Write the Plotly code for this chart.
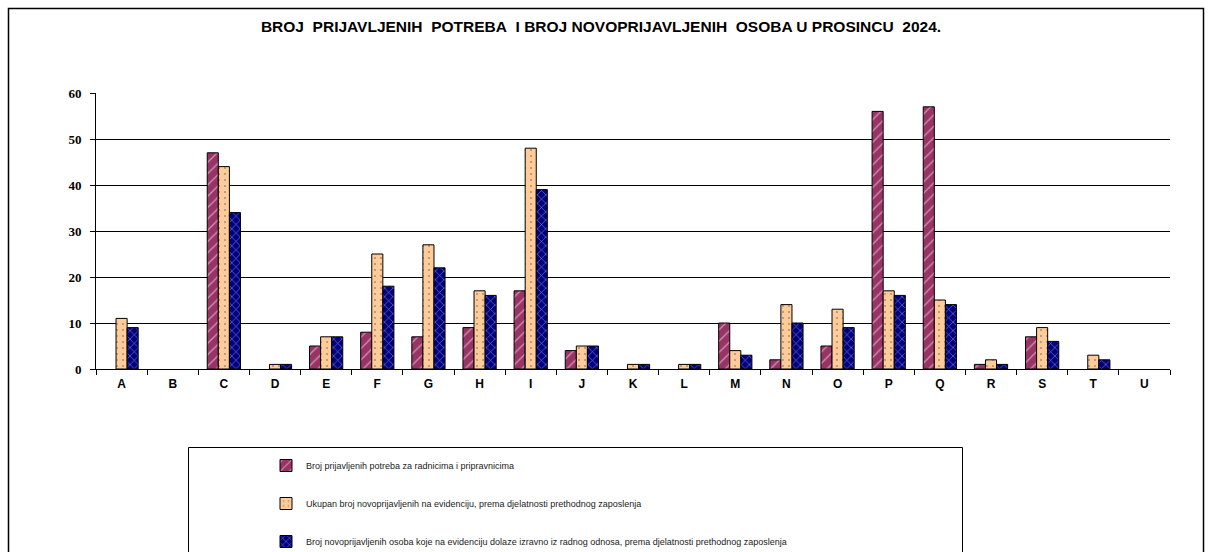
import plotly.graph_objects as go

categories = ["A","B","C","D","E","F","G","H","I","J","K","L","M","N","O","P","Q","R","S","T","U"]
potrebe = [0,0,47,0,5,8,7,9,17,4,0,0,10,2,5,56,57,1,7,0,0]
ukupno = [11,0,44,1,7,25,27,17,48,5,1,1,4,14,13,17,15,2,9,3,0]
izravno = [9,0,34,1,7,18,22,16,39,5,1,1,3,10,9,16,14,1,6,2,0]
names = [
    "Broj prijavljenih potreba za radnicima i pripravnicima",
    "Ukupan broj novoprijavljenih na evidenciju, prema djelatnosti prethodnog zaposlenja",
    "Broj novoprijavljenih osoba koje na evidenciju dolaze izravno iz radnog odnosa, prema djelatnosti prethodnog zaposlenja",
]
title = "BROJ  PRIJAVLJENIH  POTREBA  I BROJ NOVOPRIJAVLJENIH  OSOBA U PROSINCU  2024."

W, H = 1212, 552
L, R, T, B = 96, 1170, 93, 369

fig = go.Figure()
styles = [
    dict(color="#993366", pattern=dict(shape="/", fgcolor="white", size=8, solidity=0.15)),
    dict(color="#FFCC99", pattern=dict(shape=".", fgcolor="#555555", size=6, solidity=0.1)),
    dict(color="#000080", pattern=dict(shape="x", fgcolor="white", size=6, solidity=0.2)),
]
for i, (vals, st) in enumerate(zip([potrebe, ukupno, izravno], styles)):
    fig.add_trace(go.Bar(
        x=categories, y=[v if v != 0 else None for v in vals], name=names[i], legendgroup=str(i),
        marker=dict(color=st["color"], pattern=st["pattern"],
                    line=dict(color="black", width=1)),
    ))

def px(x):
    return (x - L) / (R - L)
def py(y):
    return (B - y) / (B - T)

fig.update_layout(
    width=W, height=H,
    margin=dict(l=L, r=W - R, t=T, b=H - B, autoexpand=False),
    paper_bgcolor="white", plot_bgcolor="white",
    barmode="group", bargap=0.35, bargroupgap=0,
    title=dict(text="<b>" + title.replace("  ", "&nbsp; ") + "</b>", x=601 / W, xanchor="center",
               y=1 - 27 / H, yanchor="middle",
               font=dict(family="Liberation Sans, Arial", size=15.5, color="black")),
    font=dict(family="Liberation Sans, Arial", color="black"),
    showlegend=True,
    legend=dict(x=266 / W, xref="container", xanchor="left", y=1 - 451 / H, yref="container",
                yanchor="top",
                tracegroupgap=19, font=dict(size=9, color="#222222", family="Liberation Sans, Arial"),
                itemwidth=30, bgcolor="rgba(0,0,0,0)"),
)
fig.update_yaxes(range=[0, 60], dtick=10, showgrid=True, gridcolor="black", gridwidth=1,
                 showline=True, linecolor="black", linewidth=1, ticks="outside", ticklen=5,
                 tickcolor="black", tickfont=dict(family="Liberation Serif", size=13, color="black"),
                 ticklabelstandoff=6,
                 tickprefix="<b>", ticksuffix="</b>", zeroline=False)
fig.update_xaxes(showline=True, linecolor="black", linewidth=1, ticks="outside", ticklen=5,
                 tickson="boundaries", tickcolor="black", ticklabelstandoff=4,
                 tickfont=dict(family="Liberation Sans, Arial", size=12, color="black"),
                 tickprefix="<b>", ticksuffix="</b>")

fig.add_shape(type="rect", xref="paper", yref="paper", x0=px(8.5), x1=px(1203.5), y0=py(575), y1=py(8.5),
              line=dict(color="black", width=1.5), fillcolor="rgba(0,0,0,0)", layer="below")
fig.add_shape(type="rect", xref="paper", yref="paper", x0=px(188.5), x1=px(962.5), y0=py(575), y1=py(447.5),
              line=dict(color="black", width=1), fillcolor="rgba(0,0,0,0)", layer="below")

fig.write_html("out.html", config={"displayModeBar": False},
               post_script="document.body.style.margin='0';document.documentElement.style.overflow='hidden';")
